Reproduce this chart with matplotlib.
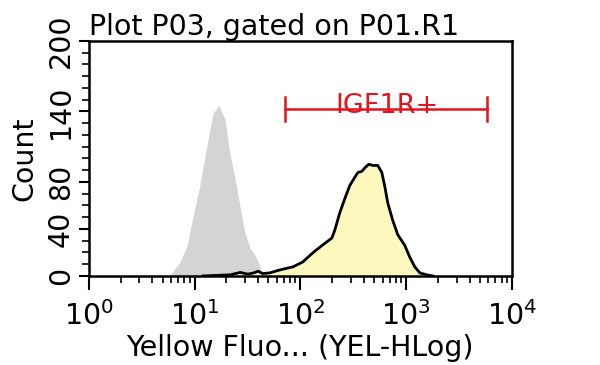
import numpy as np
import matplotlib
matplotlib.use("Agg")
import matplotlib.pyplot as plt
from matplotlib.ticker import LogLocator, MultipleLocator, FixedLocator, NullFormatter

# negative control histogram (grey)
ctrl_x = [5.8, 7.3, 8.5, 9.6, 11.2, 13.1, 14.9, 16.9, 19.3, 21.5, 24.0, 26.8, 29.9, 33.3, 37.1, 41.4, 44.2]
ctrl_y = [0, 12, 26, 49, 77, 111, 138, 145, 134, 105, 84, 60, 37, 24, 18, 9, 0]

# stained sample histogram (yellow)
samp_x = [12, 16.6, 22, 27, 32, 36, 40, 44, 51.5, 64, 85, 105.6, 131, 163, 199, 212, 236, 264,
          294, 328, 350, 382, 408, 444, 485, 541, 590, 630, 672, 750, 836, 973, 1084, 1210,
          1349, 1571, 1790]
samp_y = [0, 0.5, 1, 3, 1.5, 2.5, 4, 2, 2.6, 5.1, 7.7, 11.9, 19.6, 26.4, 32.3, 39, 53.6, 66,
          77, 84, 88, 89, 92, 95, 94, 94, 88, 76, 62, 47, 35, 26, 16, 7.7, 2.6, 0.9, 0]

gate_name = "IGF1R+"
gate_lo, gate_hi, gate_level = 71, 5800, 142

yticks = [0, 40, 80, 140, 200]
fs = 20.5

plt.rcParams['font.family'] = ['DejaVu Sans']

fig = plt.figure(figsize=(6.0, 3.65), dpi=100)
ax = fig.add_axes([0.148, 0.244, 0.705, 0.644])

ax.fill_between(ctrl_x, ctrl_y, 0, color='#d4d4d4', lw=0)
ax.fill_between(samp_x, samp_y, 0, color='#fcf8bd', lw=0)
ax.plot(samp_x, samp_y, color='black', lw=2)

# gate marker
red = '#e3141c'
ax.plot([gate_lo, gate_hi], [gate_level, gate_level], color=red, lw=1.8)
ax.plot([gate_lo, gate_lo], [gate_level - 10, gate_level + 10], color=red, lw=1.8)
ax.plot([gate_hi, gate_hi], [gate_level - 10, gate_level + 10], color=red, lw=1.8)
ax.text(658, gate_level - 3, gate_name, color=red, fontsize=fs - 1, ha='center', va='baseline')

ax.set_xscale('log')
ax.set_xlim(1, 1e4)
ax.set_ylim(0, 200)
ax.xaxis.set_major_locator(LogLocator(base=10, numticks=10))
ax.xaxis.set_minor_locator(LogLocator(base=10, subs=np.arange(2, 10), numticks=10))
ax.xaxis.set_minor_formatter(NullFormatter())
ax.yaxis.set_major_locator(FixedLocator(yticks))
ax.yaxis.set_minor_locator(MultipleLocator(10))

for s in ax.spines.values():
    s.set_linewidth(1.8)

ax.tick_params(axis='x', which='major', length=10, width=1.5, labelsize=fs, pad=8)
ax.tick_params(axis='x', which='minor', length=5, width=1.2)
ax.tick_params(axis='y', which='major', length=7, width=1.5, labelsize=fs, pad=3)
ax.tick_params(axis='y', which='minor', length=5, width=1.2)
for lab in ax.get_yticklabels():
    lab.set_rotation(90)
    lab.set_va('center')

ax.set_xlabel("Yellow Fluo... (YEL-HLog)", fontsize=fs, labelpad=2)
ax.set_ylabel("Count", fontsize=fs, labelpad=6)
ax.set_title("Plot P03, gated on P01.R1", fontsize=fs, loc='left', pad=3)

fig.savefig("out.png", dpi=100)
